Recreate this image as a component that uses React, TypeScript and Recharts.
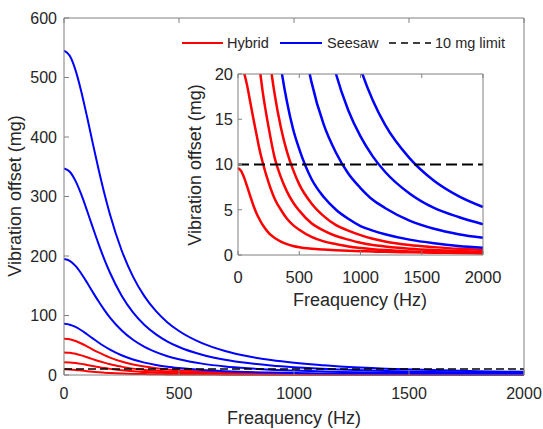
import React from 'react';
import { LineChart, Line, XAxis, YAxis, CartesianGrid } from 'recharts';

const freq = [0, 25, 50, 75, 100, 125, 150, 175, 200, 250, 300, 350, 400, 450, 500, 600, 700, 800, 900, 1000, 1100, 1200, 1400, 1600, 1800, 2000];

const hybrid1 = [9.6, 9.3, 8.55, 7.55, 6.5, 5.5, 4.65, 3.95, 3.35, 2.45, 1.88, 1.48, 1.2, 1.0, 0.86, 0.7, 0.6, 0.52, 0.46, 0.42, 0.38, 0.35, 0.3, 0.26, 0.23, 0.2];
const hybrid2 = [21.5, 21.1, 20.1, 18.7, 16.9, 15.1, 13.4, 11.7, 10.3, 8.0, 6.2, 5.0, 4.0, 3.3, 2.8, 2.0, 1.5, 1.2, 0.94, 0.77, 0.64, 0.54, 0.4, 0.31, 0.24, 0.2];
const hybrid3 = [38, 37.4, 35.6, 33.0, 29.9, 26.7, 23.6, 20.8, 18.2, 14.1, 10.7, 8.6, 7.0, 5.8, 4.9, 3.5, 2.7, 2.1, 1.7, 1.35, 1.1, 0.95, 0.7, 0.54, 0.43, 0.35];
const hybrid4 = [61, 60.0, 57.1, 52.9, 48.0, 42.8, 37.9, 33.3, 29.3, 22.6, 17.7, 14.1, 11.4, 9.4, 7.8, 5.7, 4.3, 3.3, 2.7, 2.2, 1.8, 1.5, 1.1, 0.87, 0.68, 0.56];

const seesaw1 = [86, 84.6, 80.8, 75.2, 68.5, 61.5, 54.6, 48.3, 42.6, 33.2, 26.1, 20.8, 16.9, 13.9, 11.7, 8.4, 6.4, 5.0, 4.0, 3.2, 2.7, 2.3, 1.7, 1.3, 1.0, 0.8];
const seesaw2 = [195, 191.9, 183.3, 170.5, 155.4, 139.4, 123.9, 109.5, 96.5, 75.2, 59.2, 47.3, 38.4, 31.6, 26.4, 19.1, 14.4, 11.3, 9.0, 7.4, 6.1, 5.2, 3.8, 2.9, 2.3, 1.9];
const seesaw3 = [347, 341.6, 326.2, 303.5, 276.5, 248.1, 220.5, 194.8, 171.8, 133.8, 105.3, 84.1, 68.3, 56.3, 47.1, 34.1, 25.7, 20.0, 16.0, 13.1, 10.9, 9.2, 6.8, 5.2, 4.2, 3.4];
const seesaw4 = [545, 536.4, 512.4, 476.6, 434.3, 389.7, 346.3, 306.0, 269.8, 210.1, 165.4, 132.1, 107.3, 88.4, 73.9, 53.5, 40.4, 31.4, 25.2, 20.6, 17.1, 14.4, 10.7, 8.2, 6.5, 5.3];

const limitValue = 10;

const xTicks = [0, 500, 1000, 1500, 2000];
const mainYTicks = [0, 100, 200, 300, 400, 500, 600];
const insetYTicks = [0, 5, 10, 15, 20];

const legendLabels = ['Hybrid', 'Seesaw', '10 mg limit'];
const xTitle = 'Freaquency (Hz)';
const yTitle = 'Vibration offset (mg)';

const rows = freq.map((f, i) => ({
  f,
  h1: hybrid1[i],
  h2: hybrid2[i],
  h3: hybrid3[i],
  h4: hybrid4[i],
  s1: seesaw1[i],
  s2: seesaw2[i],
  s3: seesaw3[i],
  s4: seesaw4[i],
  limit: limitValue,
}));

const FONT = '"Liberation Sans", Arial, Helvetica, sans-serif';
const AXIS = '#808080';
const TXT = '#262626';
const RED = '#ff0000';
const BLUE = '#0000ff';

const hybridKeys = ['h1', 'h2', 'h3', 'h4'];
const seesawKeys = ['s1', 's2', 's3', 's4'];

function renderSeries(width: number, dash: string, dashWidth: number) {
  return [
    ...hybridKeys.map((k) => (
      <Line key={k} dataKey={k} type="monotone" stroke={RED} strokeWidth={width} dot={false} isAnimationActive={false} />
    )),
    ...seesawKeys.map((k) => (
      <Line key={k} dataKey={k} type="monotone" stroke={BLUE} strokeWidth={width} dot={false} isAnimationActive={false} />
    )),
    <Line key="limit" dataKey="limit" type="linear" stroke="#000" strokeWidth={dashWidth} strokeDasharray={dash} dot={false} isAnimationActive={false} />,
  ];
}

export default function App() {
  const tickStyle = { fill: TXT, fontSize: 16, fontFamily: FONT };
  const insetTickStyle = { fill: TXT, fontSize: 16.5, fontFamily: FONT };
  return (
    <div style={{ position: 'absolute', left: 0, top: 0, width: 543, height: 429, background: '#fff', overflow: 'hidden' }}>
      <div style={{ position: 'absolute', left: 0, top: 0 }}>
        <LineChart width={543} height={429} data={rows} margin={{ top: 17, right: 18, bottom: 14, left: 14 }}>
          <XAxis dataKey="f" type="number" domain={[0, 2000]} ticks={xTicks} height={40} tickSize={-5} tickMargin={18}
            stroke={AXIS} tick={tickStyle} interval={0} allowDataOverflow />
          <XAxis xAxisId="top" orientation="top" dataKey="f" type="number" domain={[0, 2000]} ticks={xTicks} height={1}
            tickSize={-5} stroke={AXIS} tickFormatter={() => ''} interval={0} />
          <YAxis type="number" domain={[0, 600]} ticks={mainYTicks} width={50} tickSize={-5} tickMargin={12}
            stroke={AXIS} tick={tickStyle} interval={0} />
          <YAxis yAxisId="right" orientation="right" type="number" domain={[0, 600]} ticks={mainYTicks} width={1}
            tickSize={-5} stroke={AXIS} tickFormatter={() => ''} interval={0} />
          {renderSeries(2, '8 4', 1.5)}
        </LineChart>
      </div>
      <div style={{ position: 'absolute', left: 160, top: 64 }}>
        <LineChart width={360} height={250} data={rows} margin={{ top: 9, right: 36, bottom: 19, left: 18 }}>
          <CartesianGrid stroke="none" fill="#fff" />
          <XAxis dataKey="f" type="number" domain={[0, 2000]} ticks={xTicks} height={40} tickSize={-4} tickMargin={20}
            stroke={AXIS} tick={insetTickStyle} interval={0} />
          <XAxis xAxisId="top" orientation="top" dataKey="f" type="number" domain={[0, 2000]} ticks={xTicks} height={1}
            tickSize={-4} stroke={AXIS} tickFormatter={() => ''} interval={0} />
          <YAxis type="number" domain={[0, 20]} ticks={insetYTicks} width={60} tickSize={-4} tickMargin={9}
            stroke={AXIS} tick={insetTickStyle} interval={0} allowDataOverflow />
          <YAxis yAxisId="right" orientation="right" type="number" domain={[0, 20]} ticks={insetYTicks} width={1}
            tickSize={-4} stroke={AXIS} tickFormatter={() => ''} interval={0} />
          {renderSeries(2.5, '11 5', 2)}
        </LineChart>
      </div>
      <svg width={543} height={429} style={{ position: 'absolute', left: 0, top: 0, pointerEvents: 'none' }} fontFamily={FONT}>
        <text x={294} y={424} textAnchor="middle" fontSize={18} fill={TXT}>{xTitle}</text>
        <text transform="translate(21,196) rotate(-90)" textAnchor="middle" fontSize={18} fill={TXT}>{yTitle}</text>
        <text x={360} y={306} textAnchor="middle" fontSize={18} fill={TXT}>{xTitle}</text>
        <text transform="translate(201,165) rotate(-90)" textAnchor="middle" fontSize={18} fill={TXT}>{yTitle}</text>
        <line x1={182} x2={223} y1={43} y2={43} stroke={RED} strokeWidth={2} />
        <text x={227} y={48} fontSize={14.5} fill={TXT}>{legendLabels[0]}</text>
        <line x1={280} x2={322} y1={43} y2={43} stroke={BLUE} strokeWidth={2} />
        <text x={327} y={48} fontSize={14.5} fill={TXT}>{legendLabels[1]}</text>
        <line x1={389} x2={431} y1={43} y2={43} stroke="#000" strokeWidth={1.5} strokeDasharray="7 5" />
        <text x={435} y={48} fontSize={14.5} fill={TXT}>{legendLabels[2]}</text>
      </svg>
    </div>
  );
}
